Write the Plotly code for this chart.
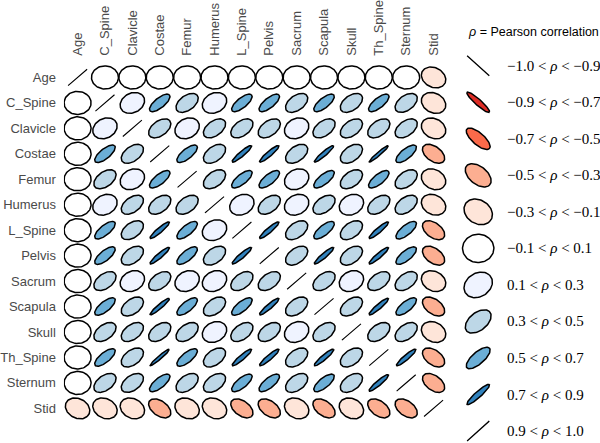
import numpy as np
import plotly.graph_objects as go

# ---------------- data ----------------
names = ["Age", "C_Spine", "Clavicle", "Costae", "Femur", "Humerus", "L_Spine",
         "Pelvis", "Sacrum", "Scapula", "Skull", "Th_Spine", "Sternum", "Stid"]

# lower-triangle correlations (row i, columns 0..i-1)
r_Age = []
r_CSpine = [0.0]
r_Clavicle = [0.0, 0.2]
r_Costae = [0.0, 0.6, 0.4]
r_Femur = [0.0, 0.4, 0.2, 0.6]
r_Humerus = [0.0, 0.2, 0.4, 0.4, 0.4]
r_LSpine = [0.0, 0.6, 0.4, 0.8, 0.6, 0.2]
r_Pelvis = [0.0, 0.6, 0.4, 0.8, 0.6, 0.4, 0.8]
r_Sacrum = [0.0, 0.4, 0.2, 0.4, 0.2, 0.2, 0.4, 0.4]
r_Scapula = [0.0, 0.6, 0.4, 0.82, 0.6, 0.4, 0.6, 0.8, 0.4]
r_Skull = [0.0, 0.4, 0.4, 0.4, 0.4, 0.2, 0.4, 0.4, 0.2, 0.4]
r_ThSpine = [0.0, 0.6, 0.4, 0.86, 0.6, 0.4, 0.8, 0.8, 0.4, 0.8, 0.4]
r_Sternum = [0.0, 0.4, 0.4, 0.6, 0.4, 0.4, 0.6, 0.6, 0.4, 0.6, 0.4, 0.8]
r_Stid = [-0.2, -0.2, -0.2, -0.4, -0.2, -0.2, -0.4, -0.4, -0.2, -0.4, -0.2, -0.4, -0.4]

lower = [r_Age, r_CSpine, r_Clavicle, r_Costae, r_Femur, r_Humerus, r_LSpine,
         r_Pelvis, r_Sacrum, r_Scapula, r_Skull, r_ThSpine, r_Sternum, r_Stid]

# legend
legend_values = [-1.0, -0.8, -0.6, -0.4, -0.2, 0.0, 0.2, 0.4, 0.6, 0.8, 1.0]
legend_bounds = [("−1.0", "−0.9"), ("−0.9", "−0.7"), ("−0.7", "−0.5"), ("−0.5", "−0.3"),
                 ("−0.3", "−0.1"), ("−0.1", "0.1"), ("0.1", "0.3"), ("0.3", "0.5"),
                 ("0.5", "0.7"), ("0.7", "0.9"), ("0.9", "1.0")]
bin_edges = [-0.9, -0.7, -0.5, -0.3, -0.1, 0.1, 0.3, 0.5, 0.7, 0.9]
bin_colors = ["#a50f15", "#de2d26", "#fb6a4a", "#fcae91", "#fee5d9", "#ffffff",
              "#eff3ff", "#bdd7e7", "#6baed6", "#3182bd", "#08519c"]

n = len(names)
corr = np.eye(n)
for i, row in enumerate(lower):
    for j, v in enumerate(row):
        corr[i, j] = v
        corr[j, i] = v

W, H = 600, 443
# main grid geometry (pixels)
GX0, GX1 = 63.0, 447.0
GY0, GY1 = 63.0, 421.0
cw = (GX1 - GX0) / n
ch = (GY1 - GY0) / n
RX_PX, RY_PX = 13.5, 11.6


def ellipse(cx, cy, rho, rx, ry, m=80):
    t = np.linspace(0, 2 * np.pi, m)
    b = 1.0 - abs(rho)
    u = np.cos(t)
    v = b * np.sin(t)
    th = np.pi / 4 if rho >= 0 else -np.pi / 4
    x = u * np.cos(th) - v * np.sin(th)
    y = u * np.sin(th) + v * np.cos(th)
    return cx + rx * x, cy + ry * y


def color_for(rho):
    k = int(np.searchsorted(bin_edges, rho))
    return bin_colors[k]


fig = go.Figure()

rx_u = RX_PX / cw
ry_u = RY_PX / ch
for i in range(n):
    for j in range(n):
        rho = corr[i, j]
        x, y = ellipse(j, -i, rho, rx_u, ry_u)
        if abs(rho) >= 0.95:
            fig.add_trace(go.Scatter(x=x, y=y, mode="lines", line=dict(color="black", width=1.1),
                                     hoverinfo="skip", showlegend=False, xaxis="x", yaxis="y"))
        else:
            fig.add_trace(go.Scatter(x=x, y=y, mode="lines", fill="toself",
                                     fillcolor=color_for(rho),
                                     line=dict(color="black", width=1.5),
                                     hoverinfo="skip", showlegend=False, xaxis="x", yaxis="y"))

# legend panel (x2 in pixels, y2 in item units)
LX0, LX1 = 450.0, 510.0
LCX = 478.0
LY_TOP, LSTEP = 64.0, 36.7
LRX, LRY = 15.7, 14.2
for k, rho in enumerate(legend_values):
    x, y = ellipse(LCX, -k, rho, LRX, LRY / LSTEP)
    if abs(rho) >= 0.95:
        fig.add_trace(go.Scatter(x=x, y=y, mode="lines", line=dict(color="black", width=1.3),
                                 hoverinfo="skip", showlegend=False, xaxis="x2", yaxis="y2"))
    else:
        fig.add_trace(go.Scatter(x=x, y=y, mode="lines", fill="toself",
                                 fillcolor=color_for(rho),
                                 line=dict(color="black", width=1.5),
                                 hoverinfo="skip", showlegend=False, xaxis="x2", yaxis="y2"))
    lo, hi = legend_bounds[k]
    label = f"{lo} &lt; <i>ρ</i> &lt; {hi}"
    fig.add_annotation(x=505 / W, xref="paper", y=-k, yref="y2", text=label,
                       showarrow=False, xanchor="left", yanchor="middle", align="left",
                       font=dict(family="Liberation Serif", size=15, color="black"))

fig.add_annotation(x=466 / W, xref="paper", y=1 - 30 / H, yref="paper",
                   text="<i>ρ</i> = Pearson correlation", showarrow=False,
                   xanchor="left", yanchor="middle",
                   font=dict(family="Liberation Sans", size=12.5, color="black"))

label_font = dict(family="Liberation Sans", size=13, color="#4a4a4a")
fig.update_layout(
    width=W, height=H,
    margin=dict(l=0, r=0, t=0, b=0),
    paper_bgcolor="white", plot_bgcolor="white",
    xaxis=dict(domain=[GX0 / W, GX1 / W], range=[-0.5, n - 0.5], side="top",
               tickmode="array", tickvals=list(range(n)), ticktext=names,
               tickangle=-90, ticks="", showgrid=False, zeroline=False, showline=False,
               tickfont=label_font, ticklabelstandoff=8, fixedrange=True),
    yaxis=dict(domain=[1 - GY1 / H, 1 - GY0 / H], range=[-(n - 0.5), 0.5],
               tickmode="array", tickvals=[-i for i in range(n)], ticktext=names,
               ticks="", showgrid=False, zeroline=False, showline=False,
               tickfont=label_font, ticklabelstandoff=7, fixedrange=True),
    xaxis2=dict(domain=[LX0 / W, LX1 / W], range=[LX0, LX1], visible=False, fixedrange=True),
    yaxis2=dict(domain=[0, 1], range=[-(H - LY_TOP) / LSTEP, LY_TOP / LSTEP],
                visible=False, fixedrange=True),
)

fig.write_html("out.html", config={"displayModeBar": False},
               post_script="document.body.style.margin='0';")
